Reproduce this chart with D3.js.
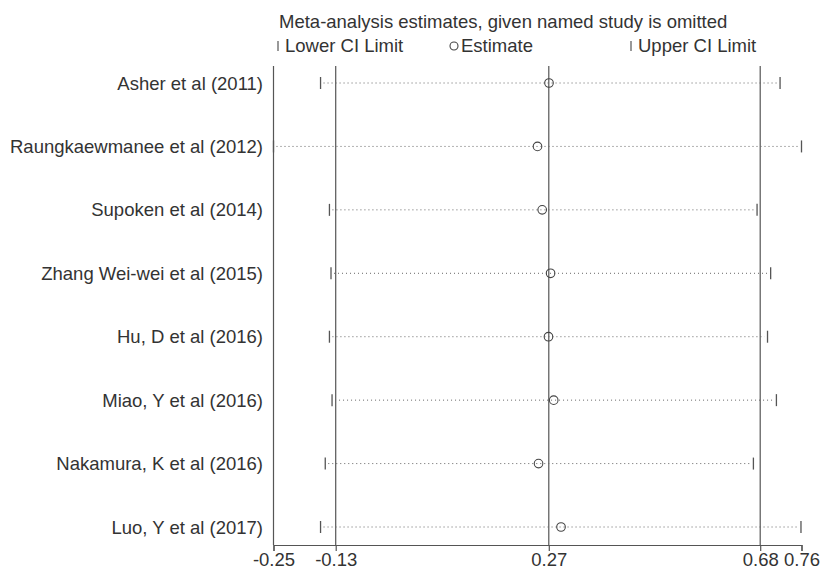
<!DOCTYPE html>
<html>
<head>
<meta charset="utf-8">
<script src="https://cdn.jsdelivr.net/npm/d3@7"></script>
<style>
  body { margin: 0; background: #fff; }
  text { font-family: "Liberation Sans", Arial, sans-serif; fill: #333; }
</style>
</head>
<body>
<div id="chart"></div>
<script>
var studies = ["Asher et al (2011)", "Raungkaewmanee et al (2012)", "Supoken et al (2014)",
  "Zhang Wei-wei et al (2015)", "Hu, D et al (2016)", "Miao, Y et al (2016)",
  "Nakamura, K et al (2016)", "Luo, Y et al (2017)"];
var lower = [-0.160, -0.250, -0.143, -0.140, -0.143, -0.138, -0.151, -0.160];
var estimate = [0.277, 0.255, 0.264, 0.280, 0.276, 0.286, 0.257, 0.300];
var upper = [0.719, 0.760, 0.675, 0.701, 0.695, 0.712, 0.668, 0.759];
var refLines = [-0.131, 0.2766, 0.681];
var tickValues = [-0.25, -0.131, 0.2766, 0.681, 0.76];
var tickLabels = ["-0.25", "-0.13", "0.27", "0.68", "0.76"];

var w = 825, h = 571;
var lineCol = "#555";
var fs = "18.5px";

var svg = d3.select("#chart")
  .append("svg")
  .attr("width", w)
  .attr("height", h);

var x = d3.scaleLinear().domain([-0.25, 0.76]).range([273.5, 801.5]);
var y = d3.scalePoint().domain(studies).range([83, 527]);
var yTop = 66, yBottom = 545;

// reference lines
svg.selectAll(".ref")
  .data([-0.25].concat(refLines))
  .enter()
  .append("line")
  .attr("x1", function(d) {return x(d);})
  .attr("x2", function(d) {return x(d);})
  .attr("y1", yTop)
  .attr("y2", yBottom)
  .attr("stroke", lineCol)
  .attr("stroke-width", 1.2);

// dotted CI lines
svg.selectAll(".ci")
  .data(studies)
  .enter()
  .append("line")
  .attr("x1", function(d, i) {return x(lower[i]) + 3;})
  .attr("x2", function(d, i) {return x(upper[i]) - 3;})
  .attr("y1", function(d) {return y(d);})
  .attr("y2", function(d) {return y(d);})
  .attr("stroke", "#666")
  .attr("stroke-width", 1)
  .attr("stroke-dasharray", "1,3");

// CI end caps
var caps = [];
studies.forEach(function(s, i) {
  caps.push({s: s, v: lower[i]});
  caps.push({s: s, v: upper[i]});
});
svg.selectAll(".cap")
  .data(caps)
  .enter()
  .append("line")
  .attr("x1", function(d) {return x(d.v);})
  .attr("x2", function(d) {return x(d.v);})
  .attr("y1", function(d) {return y(d.s) - 6;})
  .attr("y2", function(d) {return y(d.s) + 6;})
  .attr("stroke", lineCol)
  .attr("stroke-width", 1.3);

// estimates
svg.selectAll(".est")
  .data(studies)
  .enter()
  .append("circle")
  .attr("cx", function(d, i) {return x(estimate[i]);})
  .attr("cy", function(d) {return y(d);})
  .attr("r", 4.3)
  .attr("fill", "none")
  .attr("stroke", "#444")
  .attr("stroke-width", 1.1);

// study labels
svg.selectAll(".label")
  .data(studies)
  .enter()
  .append("text")
  .attr("x", 263)
  .attr("y", function(d) {return y(d) + 6.5;})
  .attr("text-anchor", "end")
  .attr("font-size", fs)
  .text(function(d) {return d;});

// x axis
var axis = d3.axisBottom(x)
  .tickValues(tickValues)
  .tickSize(6)
  .tickPadding(2)
  .tickFormat(function(d, i) {return tickLabels[i];});
var g = svg.append("g")
  .attr("transform", "translate(0," + yBottom + ")")
  .call(axis);
g.select(".domain").attr("stroke", lineCol).attr("stroke-width", 1.2);
g.selectAll(".tick line").attr("stroke", lineCol).attr("stroke-width", 1.2);
g.selectAll(".tick text")
  .attr("font-size", fs)
  .attr("font-family", "Liberation Sans, Arial, sans-serif")
  .attr("fill", "#333");

// legend
svg.append("text")
  .attr("x", 279)
  .attr("y", 28)
  .attr("font-size", fs)
  .text("Meta-analysis estimates, given named study is omitted");

svg.append("line")
  .attr("x1", 278).attr("x2", 278)
  .attr("y1", 41).attr("y2", 51)
  .attr("stroke", lineCol).attr("stroke-width", 1.2);
svg.append("text").attr("x", 285).attr("y", 52).attr("font-size", fs).text("Lower CI Limit");

svg.append("circle")
  .attr("cx", 454).attr("cy", 46).attr("r", 4)
  .attr("fill", "none").attr("stroke", "#444").attr("stroke-width", 1.1);
svg.append("text").attr("x", 461).attr("y", 52).attr("font-size", fs).text("Estimate");

svg.append("line")
  .attr("x1", 631).attr("x2", 631)
  .attr("y1", 41).attr("y2", 51)
  .attr("stroke", lineCol).attr("stroke-width", 1.2);
svg.append("text").attr("x", 638).attr("y", 52).attr("font-size", fs).text("Upper CI Limit");
</script>
</body>
</html>
